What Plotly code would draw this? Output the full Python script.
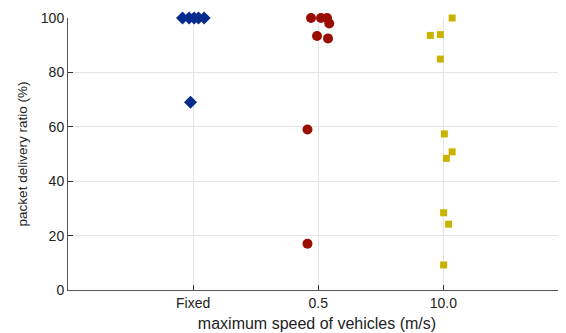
import plotly.graph_objects as go

categories = ["Fixed", "0.5", "10.0"]
cat_pos = [1, 2, 3]

fixed_pdr = [100, 100, 100, 100, 100, 69]
fixed_jitter = [-0.085, -0.032, 0.008, 0.043, 0.088, -0.021]

slow_pdr = [100, 100, 100, 98, 93.4, 92.5, 59, 17]
slow_jitter = [-0.058, 0.022, 0.07, 0.088, -0.01, 0.078, -0.086, -0.086]

fast_pdr = [100, 93.6, 93.9, 84.9, 57.4, 50.8, 48.4, 28.4, 24.2, 9.2]
fast_jitter = [0.07, -0.104, -0.024, -0.024, 0.008, 0.07, 0.024, 0.002, 0.042, 0.002]

y_ticks = [0, 20, 40, 60, 80, 100]

fig = go.Figure()
series = [
    (fixed_pdr, fixed_jitter, 0, "diamond", "#062b8e", 10),
    (slow_pdr, slow_jitter, 1, "circle", "#9a0e02", 10),
    (fast_pdr, fast_jitter, 2, "square", "#c9b300", 7),
]
for vals, jit, ci, sym, col, sz in series:
    fig.add_trace(go.Scatter(
        x=[cat_pos[ci] + j for j in jit], y=vals, mode="markers",
        marker=dict(symbol=sym, color=col, size=sz, line=dict(width=0)),
        cliponaxis=False, showlegend=False,
    ))

font = "Liberation Sans, Arial, sans-serif"
fig.update_layout(
    width=558, height=325,
    margin=dict(l=60, r=0, t=10, b=43),
    plot_bgcolor="white", paper_bgcolor="white",
    font=dict(family=font, size=14, color="#222"),
)
fig.update_xaxes(
    range=[0, 3.98], tickvals=cat_pos, ticktext=categories,
    showgrid=True, gridcolor="#e4e4e4", gridwidth=1,
    showline=True, linecolor="#555", linewidth=1,
    ticks="inside", ticklen=5, tickcolor="#333",
    zeroline=False,
    title=dict(text="maximum speed of vehicles (m/s)", font=dict(size=16), standoff=8),
)
fig.update_yaxes(
    range=[0, 100], tickvals=y_ticks,
    showgrid=True, gridcolor="#e4e4e4", gridwidth=1,
    showline=True, linecolor="#555", linewidth=1,
    ticks="inside", ticklen=5, tickcolor="#333",
    zeroline=False,
    title=dict(text="packet delivery ratio (%)", font=dict(size=13.5), standoff=10),
)
fig.write_html("out.html")
